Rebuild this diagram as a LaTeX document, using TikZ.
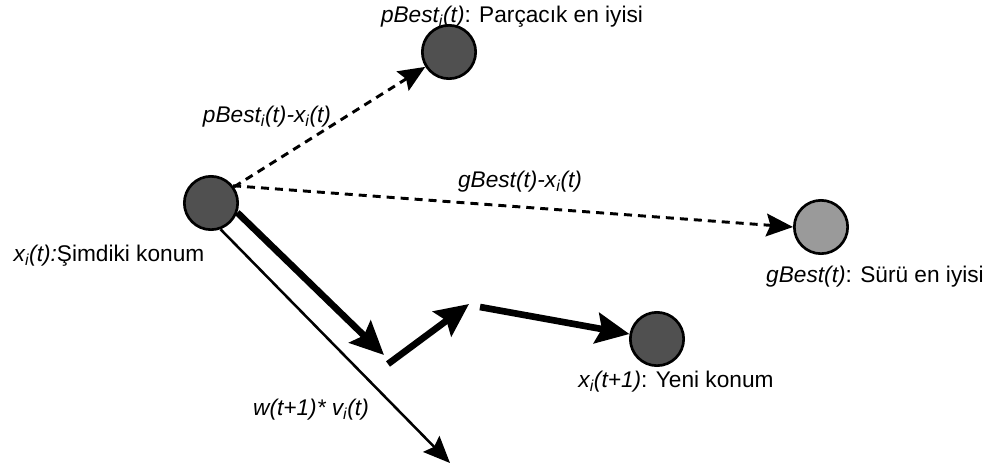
\documentclass[tikz,border=0pt]{standalone}
\usepackage{fontspec}
\setmainfont{Liberation Sans}
\usetikzlibrary{arrows.meta,positioning}
\definecolor{partdark}{HTML}{505050}
\definecolor{partlight}{HTML}{9A9A9A}
\newcommand{\idx}[1]{\textsubscript{#1}}

\begin{document}
\begin{tikzpicture}[x=0.75pt, y=-0.75pt,
  part/.style={circle, draw=black, line width=2pt, fill=#1, minimum size=40pt, inner sep=0pt},
  lbl/.style={font=\fontsize{17}{20}\selectfont, inner sep=0pt},
  diff/.style={dash pattern=on 6pt off 4.5pt, line width=2.2pt,
               -{Stealth[length=20pt, width=17pt, inset=3pt]}},
  move/.style={line width=5pt, -{Stealth[length=25pt, width=23pt, inset=4pt]}},
  inert/.style={line width=1.9pt, -{Stealth[length=20pt, width=17pt, inset=3pt]}},
]
  \useasboundingbox (0,0) rectangle (1001,475);

  \node[part=partdark] (xt) at (211,203) {};
  \node[part=partdark] (pb) at (449,52) {};
  \node[part=partlight] (gb) at (821,227) {};
  \node[part=partdark] (xn) at (657,339) {};

  \coordinate (m1) at (384,355);
  \coordinate (m2s) at (388,364);
  \coordinate (m2) at (469,304);
  \coordinate (m3s) at (480,307);
  \coordinate (w1) at (450,463);

  \draw[diff] (xt.35) -- (pb);
  \draw[diff] (xt.38) -- (gb.west);
  \draw[move] (xt.-20) -- (m1);
  \draw[move] (m2s) -- (m2);
  \draw[move] (m3s) -- (xn);
  \draw[inert] (xt.-70) -- (w1);

  \node[lbl] (pblbl) at (512,17) {\textit{pBest\idx{i}(t)}: Parçacık en iyisi};
  \node[lbl] (pbdiff) at (267,117) {\textit{pBest\idx{i}(t)-x\idx{i}(t)}};
  \node[lbl] (gbdiff) at (520,182) {\textit{gBest(t)-x\idx{i}(t)}};
  \node[lbl] (xtlbl) at (109,256) {\textit{x\idx{i}(t):}Şimdiki konum};
  \node[lbl] (gblbl) at (875,277) {\textit{gBest(t)}: Sürü en iyisi};
  \node[lbl] (xnlbl) at (676,382) {\textit{x\idx{i}(t+1)}: Yeni konum};
  \node[lbl] (wlbl) at (311,410) {\textit{w(t+1)* v\idx{i}(t)}};
\end{tikzpicture}
\end{document}
